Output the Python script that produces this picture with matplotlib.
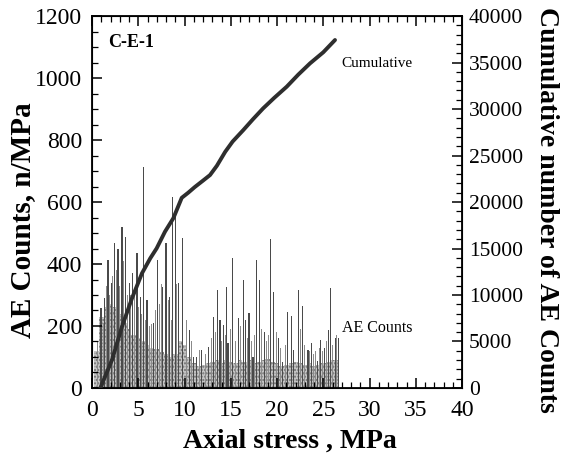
import matplotlib
matplotlib.use("Agg")
import matplotlib.pyplot as plt
from matplotlib.ticker import MultipleLocator

# ---- data ----
base_stress = [0.5, 1.0, 1.5, 2.0, 2.5, 3.0, 3.5, 4.0, 4.5, 5.0, 5.5, 6.0, 6.5,
               7.0, 7.5, 8.0, 8.5, 9.0, 9.5, 10.0, 10.5, 11.0, 11.5, 12.0, 12.5,
               13.0, 13.5, 14.0, 14.5, 15.0, 15.5, 16.0, 16.5, 17.0, 17.5, 18.0,
               18.5, 19.0, 19.5, 20.0, 20.5, 21.0, 21.5, 22.0, 22.5, 23.0, 23.5,
               24.0, 24.5, 25.0, 25.5, 26.0, 26.5]
base_counts = [120, 230, 260, 270, 260, 240, 210, 190, 170, 160, 150, 140, 130,
               125, 115, 110, 100, 110, 150, 140, 100, 80, 70, 75, 80,
               85, 90, 80, 90, 85, 80, 90, 85, 90, 80, 85,
               90, 95, 85, 80, 70, 75, 80, 85, 80, 75, 80,
               70, 75, 80, 85, 90, 90]

sec_stress = [0.6, 1.2, 1.55, 1.9, 2.25, 2.65, 3.0, 3.4, 3.8, 4.2, 4.6, 5.05,
              5.4, 5.8, 6.2, 6.45, 6.9, 7.3, 7.53, 7.89, 8.25, 8.55, 9.15, 9.51,
              10.2, 10.75, 11.6, 12.0, 12.3, 12.9, 13.35, 14.0, 14.4, 14.95,
              15.5, 16.1, 16.8, 17.2, 17.6, 18.35, 18.85, 19.05, 19.9, 20.4,
              20.9, 21.3, 22.05, 22.55, 23.0, 23.5, 23.95, 24.2, 24.55, 24.9,
              25.35, 26.0, 26.45]
sec_counts = [150, 210, 330, 300, 360, 380, 330, 410, 300, 300, 320, 260,
              240, 220, 200, 208, 250, 270, 337, 305, 284, 220, 337, 359,
              220, 150, 123, 117, 110, 160, 180, 150, 170, 190,
              150, 200, 160, 150, 170, 190, 150, 170, 180, 130,
              140, 170, 150, 190, 140, 120, 110, 120, 130, 120,
              150, 140, 170]

spike_stress = [0.97, 1.37, 1.73, 2.09, 2.45, 2.81, 3.24, 3.6, 4.04, 4.4, 4.86,
                5.22, 5.57, 5.95, 6.67, 7.1, 7.64, 8.0, 8.36, 8.73, 9.0, 9.33,
                9.77, 10.5, 10.96, 11.3, 11.8, 12.58, 13.1, 13.6, 13.84, 14.2,
                14.56, 14.7, 15.2, 15.8, 16.36, 16.6, 16.97, 17.4, 17.77, 18.1,
                18.6, 19.3, 19.6, 20.2, 20.6, 21.1, 21.55, 21.8, 22.3, 22.8,
                23.35, 23.7, 24.4, 24.7, 25.15, 25.6, 25.8, 26.3, 26.6]
spike_counts = [257, 289, 413, 338, 469, 450, 518, 486, 338, 370, 434,
                295, 714, 284, 209, 413, 327, 467, 295, 617, 564, 338,
                483, 187, 101, 101, 123, 133, 230, 316, 219, 203,
                327, 144, 418, 225, 348, 219, 241, 101, 413, 348,
                182, 480, 311, 160, 83, 246, 232, 123, 316, 264,
                123, 144, 88, 155, 130, 187, 322, 160, 160]

cum_stress = [0.9, 2.16, 3.24, 4.32, 5.4, 6.3, 6.99, 7.89, 8.79, 9.7, 10.4,
              11.1, 12.0, 12.76, 13.5, 14.4, 15.2, 16.36, 17.4, 18.5, 19.7,
              21.05, 22.3, 23.57, 25.0, 26.27]
cum_counts = [0, 3010, 6590, 9640, 12330, 13950, 15020, 16810, 18250, 20450,
              21000, 21600, 22300, 22900, 23900, 25400, 26500, 27740, 28900,
              30070, 31200, 32400, 33700, 34910, 36100, 37420]

plt.rcParams['font.family'] = ['Liberation Serif', 'DejaVu Serif']

fig = plt.figure(figsize=(5.62, 4.63), dpi=100)
ax = fig.add_axes([0.1637, 0.162, 0.6584, 0.8034])

ax.bar(base_stress, base_counts, width=0.5, align='center',
       color='#c4c4c4', edgecolor='#707070', hatch='.....', linewidth=0)
ax.bar(sec_stress, sec_counts, width=0.1, align='center',
       color='#8a8a8a', linewidth=0)
ax.bar(spike_stress, spike_counts, width=0.12, align='center',
       color='#4a4a4a', linewidth=0)

ax.set_xlim(0, 40)
ax.set_ylim(0, 1200)
ax.xaxis.set_major_locator(MultipleLocator(5))
ax.xaxis.set_minor_locator(MultipleLocator(1))
ax.yaxis.set_major_locator(MultipleLocator(200))
ax.yaxis.set_minor_locator(MultipleLocator(50))
ax.tick_params(which='both', direction='in', top=True, right=False)
ax.tick_params(which='major', length=7, width=1.1, labelsize=17)
ax.tick_params(axis='x', which='major', pad=9)
ax.tick_params(axis='y', which='major', pad=7)
ax.tick_params(which='minor', length=4, width=0.9)
for s in ax.spines.values():
    s.set_linewidth(1.3)

ax2 = ax.twinx()
ax2.plot(cum_stress, cum_counts, color='#2e2e2e', linewidth=2.8,
         solid_capstyle='round', solid_joinstyle='round')
ax2.set_ylim(0, 40000)
ax2.yaxis.set_major_locator(MultipleLocator(5000))
ax2.yaxis.set_minor_locator(MultipleLocator(1000))
ax2.tick_params(which='both', direction='in')
ax2.tick_params(which='major', length=7, width=1.1, labelsize=15.5, pad=5)
ax2.tick_params(which='minor', length=4, width=0.9)

fig.text(0.041, 0.525, 'AE Counts, n/MPa', fontsize=21, fontweight='bold',
         rotation=90, ha='center', va='center')
fig.text(0.516, 0.047, 'Axial stress , MPa', fontsize=20, fontweight='bold',
         ha='center', va='center')
fig.text(0.973, 0.546, 'Cumulative number of AE Counts', fontsize=20,
         fontweight='bold', rotation=270, ha='center', va='center')

ax.text(1.7, 1114, 'C-E-1', fontsize=13, fontweight='bold', va='center')
ax.text(27.0, 1047, 'Cumulative', fontsize=11, va='center')
ax.text(27.0, 192, 'AE Counts', fontsize=11.5, va='center')

fig.savefig('out.png', dpi=100)
